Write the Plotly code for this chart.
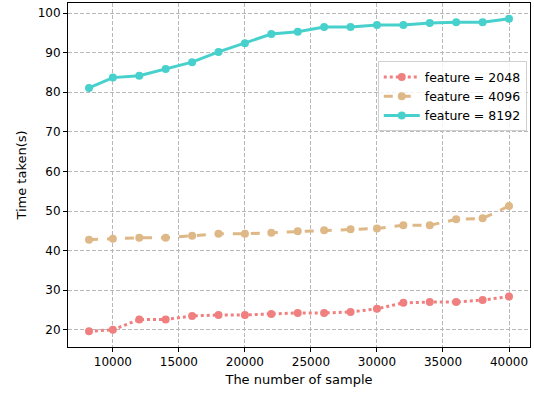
import plotly.graph_objects as go

samples = [8192, 10000, 12000, 14000, 16000, 18000, 20000, 22000, 24000, 26000,
           28000, 30000, 32000, 34000, 36000, 38000, 40000]
f2048 = [19.6, 20.0, 22.6, 22.6, 23.5, 23.75, 23.75, 24.0, 24.25, 24.25,
         24.5, 25.3, 26.8, 27.0, 27.0, 27.5, 28.4]
f4096 = [42.75, 43.0, 43.25, 43.25, 43.75, 44.25, 44.25, 44.5, 44.9, 45.15,
         45.4, 45.6, 46.4, 46.4, 47.9, 48.15, 51.25]
f8192 = [81.1, 83.7, 84.2, 85.9, 87.6, 90.2, 92.4, 94.7, 95.3, 96.5,
         96.5, 97.0, 97.0, 97.5, 97.7, 97.7, 98.6]
x_ticks = [10000, 15000, 20000, 25000, 30000, 35000, 40000]
y_ticks = [20, 30, 40, 50, 60, 70, 80, 90, 100]

names = ["feature = 2048", "feature = 4096", "feature = 8192"]
colors = ["#F08080", "#DEB887", "#48D1CC"]
dashes = ["dot", "dash", "solid"]

fig = go.Figure()
for name, ys, c, d in zip(names, [f2048, f4096, f8192], colors, dashes):
    fig.add_trace(go.Scatter(
        x=samples, y=ys, name=name, mode="lines+markers",
        line=dict(color=c, width=3, dash=d),
        marker=dict(color=c, size=8),
    ))

axis_common = dict(
    showline=True, linecolor="black", linewidth=1, mirror=True,
    ticks="outside", ticklen=4, tickcolor="black",
    showgrid=True, gridcolor="#b8b8b8", griddash="4px,2px", gridwidth=1,
    zeroline=False, tickfont=dict(size=12, color="black"), automargin=False,
)

fig.update_layout(
    width=534, height=393,
    margin=dict(l=68, r=4, t=3, b=46),
    paper_bgcolor="white", plot_bgcolor="white",
    font=dict(family="DejaVu Sans", color="black"),
    xaxis=dict(range=[6602, 41590], tickvals=x_ticks, ticktext=[str(v) for v in x_ticks],
               title=dict(text="The number of sample", font=dict(size=13), standoff=6),
               **axis_common),
    yaxis=dict(range=[15.65, 102.55], tickvals=y_ticks, ticktext=[str(v) for v in y_ticks],
               title=dict(text="Time taken(s)", font=dict(size=13), standoff=8),
               **axis_common),
    legend=dict(x=0.993, y=0.83, xanchor="right", yanchor="top",
                bgcolor="rgba(255,255,255,0.8)", bordercolor="#d0d0d0", borderwidth=1,
                font=dict(size=12.5), tracegroupgap=0, itemwidth=36),
    showlegend=True,
)

fig.write_html("out.html", config={"displayModeBar": False},
               post_script="document.body.style.margin='0';document.body.style.overflow='hidden';")
